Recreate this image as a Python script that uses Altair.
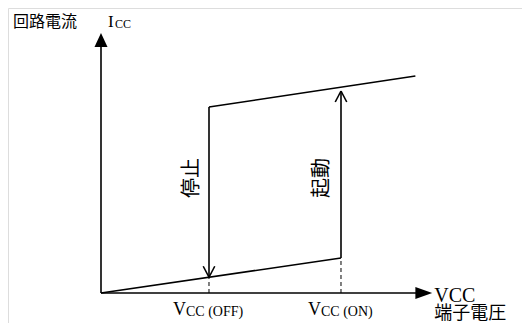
import altair as alt
import pandas as pd

# ---- data (schematic units: x = VCC terminal voltage, y = circuit current Icc)
V_OFF = 4.5          # Vcc(OFF) threshold
V_ON = 10.0          # Vcc(ON) threshold
V_END = 13.1         # end of operating line
I_LOW_ON = 1.75      # standby current at V_ON
I_HIGH_OFF = 9.3     # operating current at V_OFF
I_HIGH_END = 10.85   # operating current at V_END
I_START_TIP = 10.1   # tip of the start arrow
X_AXIS_END = 13.8
Y_AXIS_END = 13.0

I_LOW_OFF = I_LOW_ON * V_OFF / V_ON

axis_x = [0, X_AXIS_END - 0.4]
axis_y = [0, Y_AXIS_END - 0.4]

# arrow-head arm offsets (style)
ARM_DX = 0.24
ARM_DY = 0.55

solid = pd.DataFrame({
    "x":  [0, 0, 0, V_OFF, V_OFF, V_ON],
    "y":  [0, 0, 0, I_HIGH_OFF, I_HIGH_OFF, I_LOW_ON],
    "x2": [axis_x[1], 0, V_ON, V_END, V_OFF, V_ON],
    "y2": [0, axis_y[1], I_LOW_ON, I_HIGH_END, I_LOW_OFF, I_START_TIP],
})
arms = pd.DataFrame({
    "x":  [V_OFF, V_OFF, V_ON, V_ON],
    "y":  [I_LOW_OFF, I_LOW_OFF, I_START_TIP, I_START_TIP],
    "x2": [V_OFF - ARM_DX, V_OFF + ARM_DX, V_ON - ARM_DX, V_ON + ARM_DX],
    "y2": [I_LOW_OFF + ARM_DY, I_LOW_OFF + ARM_DY, I_START_TIP - ARM_DY, I_START_TIP - ARM_DY],
})
dashed = pd.DataFrame({
    "x": [V_OFF, V_ON], "y": [0, 0],
    "x2": [V_OFF, V_ON], "y2": [I_LOW_OFF, I_LOW_ON],
})

xs = alt.Scale(domain=[-3.875, 17.5417], nice=False, zero=False)
ys = alt.Scale(domain=[-1.5, 14.25], nice=False, zero=False)

def seg(df, **kw):
    return alt.Chart(df).mark_rule(color="black", **kw).encode(
        x=alt.X("x:Q", scale=xs, axis=None),
        y=alt.Y("y:Q", scale=ys, axis=None),
        x2="x2:Q", y2="y2:Q",
    )

def tri(xv, yv, path):
    d = pd.DataFrame({"x": [xv], "y": [yv]})
    return alt.Chart(d).mark_point(shape=path, filled=True, size=196, color="black",
                                   opacity=1, strokeWidth=0).encode(
        x=alt.X("x:Q", scale=xs, axis=None),
        y=alt.Y("y:Q", scale=ys, axis=None),
    )

SERIF = "Liberation Serif"
CJK = "Noto Sans CJK JP"

def label(xv, yv, text, font, size, dx=0, dy=0, baseline="alphabetic", align="left", angle=0):
    d = pd.DataFrame({"x": [xv], "y": [yv], "t": [text]})
    kw = dict(font=font, fontSize=size, dx=dx, dy=dy, baseline=baseline,
              align=align, color="black")
    if angle:
        kw["angle"] = angle
    return alt.Chart(d).mark_text(**kw).encode(
        x=alt.X("x:Q", scale=xs, axis=None),
        y=alt.Y("y:Q", scale=ys, axis=None),
        text="t:N",
    )

mid_y = 5.75
layers = [
    seg(solid, strokeWidth=1.6),
    seg(arms, strokeWidth=1.6),
    seg(dashed, strokeWidth=1, strokeDash=[4, 3]),
    tri(0, Y_AXIS_END, "M0,0 L0.93,2 L-0.93,2 Z"),
    tri(X_AXIS_END, 0, "M0,0 L-2.4,-0.85 L-2.4,0.85 Z"),
    label(0, Y_AXIS_END, "回路電流", CJK, 16, dx=-88, dy=-11, baseline="middle"),
    label(0, Y_AXIS_END, "I", SERIF, 17, dx=7, dy=-6),
    label(0, Y_AXIS_END, "CC", SERIF, 12, dx=14, dy=-5),
    label(V_OFF, 0, "V", SERIF, 18, dx=-36, dy=22),
    label(V_OFF, 0, "CC (OFF)", SERIF, 14, dx=-23, dy=23),
    label(V_ON, 0, "V", SERIF, 18, dx=-33, dy=22),
    label(V_ON, 0, "CC (ON)", SERIF, 14, dx=-20, dy=23),
    label(X_AXIS_END, 0, "VCC", SERIF, 20, dx=2, dy=9),
    label(X_AXIS_END, 0, "端子電圧", CJK, 18, dx=2, dy=21, baseline="middle"),
    label(3.79, mid_y, "停止", CJK, 20, baseline="middle", align="center", angle=270),
    label(9.21, mid_y, "起動", CJK, 20, baseline="middle", align="center", angle=270),
]

chart = alt.layer(*layers).properties(
    width=514, height=315,
    autosize=alt.AutoSizeParams(type="none"),
    padding=0,
).configure_view(strokeWidth=0).configure(background="white")

chart.save("out.html", embed_options={"renderer": "svg", "actions": False})
